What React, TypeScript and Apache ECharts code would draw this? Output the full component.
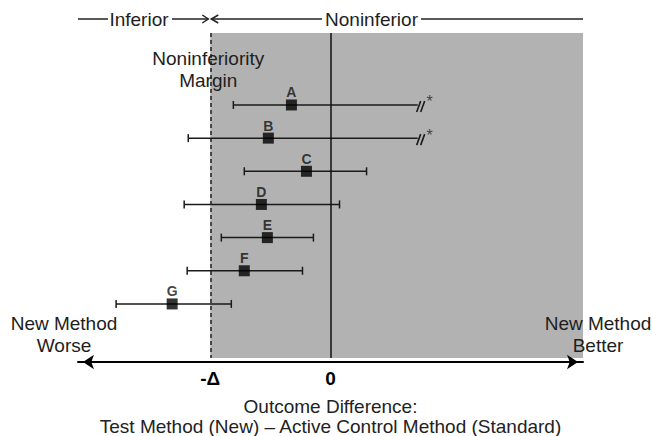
import React, { useEffect, useRef } from 'react';
import * as echarts from 'echarts';

// Data (x in units of the margin Δ; -1 = -Δ)
const rowNames = ['A', 'B', 'C', 'D', 'E', 'F', 'G'];
const pointEstimates = [-0.325, -0.517, -0.2, -0.575, -0.525, -0.717, -1.317];
const lowerBounds = [-0.808, -1.183, -0.717, -1.217, -0.908, -1.192, -1.783];
const upperBounds = [0.725, 0.725, 0.3, 0.075, -0.142, -0.233, -0.825];
const truncatedUpper = [true, true, false, false, false, false, false];
const tickValues = [-1, 0];
const tickLabels = ['-Δ', '0'];
const marginValue = -1;
const xMin = -2.1;
const xMax = 2.1;
const yMin = -2.17;
const yMax = 7.63;

export default function App() {
  const ref = useRef<HTMLDivElement>(null);
  useEffect(() => {
    const chart = echarts.init(ref.current as HTMLDivElement, null, { renderer: 'svg' });
    const font = '"Liberation Sans", Arial, sans-serif';
    const ink = '#1a1a1a';

    const ciData = rowNames.map((_, i) => [lowerBounds[i], upperBounds[i], i, truncatedUpper[i] ? 1 : 0]);
    const ptData = rowNames.map((n, i) => ({ name: n, value: [pointEstimates[i], i] }));

    const option: any = {
      animation: false,
      backgroundColor: '#fff',
      textStyle: { fontFamily: font },
      grid: { left: 78, right: 69, top: 33, bottom: 78, containLabel: false, outerBoundsMode: 'none' },
      xAxis: {
        type: 'value',
        min: xMin,
        max: xMax,
        offset: 4,
        z: 10,
        axisLine: {
          show: true,
          onZero: false,
          symbol: ['arrow', 'arrow'],
          symbolSize: [11, 11],
          symbolOffset: [5, -5],
          lineStyle: { color: '#000', width: 2 },
        },
        axisTick: { show: false },
        splitLine: { show: false },
        axisLabel: {
          customValues: tickValues,
          formatter: (v: number) => {
            const k = tickValues.indexOf(v);
            return k >= 0 ? tickLabels[k] : '';
          },
          fontSize: 19,
          fontWeight: 'bold',
          color: '#000',
          margin: 7,
          fontFamily: font,
        },
        name: 'Outcome Difference:\nTest Method (New) – Active Control Method (Standard)',
        nameLocation: 'middle',
        nameGap: 34,
        nameTextStyle: { fontSize: 19, color: '#222', lineHeight: 20, fontFamily: font },
      },
      yAxis: { type: 'value', inverse: true, min: yMin, max: yMax, show: false },
      series: [
        {
          type: 'line',
          z: 0,
          data: [[xMin, yMin]],
          showSymbol: false,
          lineStyle: { opacity: 0 },
          silent: true,
          markArea: {
            silent: true,
            itemStyle: { color: '#b2b2b2' },
            data: [[{ xAxis: marginValue }, { xAxis: xMax }]],
          },
          markLine: {
            silent: true,
            symbol: 'none',
            label: { show: false },
            data: [
              { xAxis: marginValue, lineStyle: { type: [4, 3], color: '#222', width: 1.5 } },
              { xAxis: 0, lineStyle: { type: 'solid', color: '#111', width: 1.5 } },
            ],
          },
        },
        {
          type: 'custom',
          z: 4,
          data: ciData,
          encode: { x: [0, 1], y: 2 },
          renderItem: (params: any, api: any) => {
            const lo = api.coord([api.value(0), api.value(2)]);
            const hi = api.coord([api.value(1), api.value(2)]);
            const trunc = api.value(3) === 1;
            const y = lo[1];
            const ls = { stroke: ink, lineWidth: 1.5 };
            const children: any[] = [
              { type: 'line', shape: { x1: lo[0], y1: y, x2: hi[0], y2: y }, style: ls },
              { type: 'line', shape: { x1: lo[0], y1: y - 4, x2: lo[0], y2: y + 4 }, style: ls },
            ];
            if (trunc) {
              children.push(
                { type: 'line', shape: { x1: hi[0] - 1, y1: y + 7, x2: hi[0] + 3, y2: y - 4 }, style: { stroke: ink, lineWidth: 1.6 } },
                { type: 'line', shape: { x1: hi[0] + 3, y1: y + 7, x2: hi[0] + 7, y2: y - 4 }, style: { stroke: ink, lineWidth: 1.6 } },
                {
                  type: 'text',
                  style: {
                    text: '*', x: hi[0] + 12, y: y - 3, fill: '#444', fontSize: 16,
                    fontFamily: font, align: 'center', verticalAlign: 'middle',
                  },
                },
              );
            } else {
              children.push({ type: 'line', shape: { x1: hi[0], y1: y - 4, x2: hi[0], y2: y + 4 }, style: ls });
            }
            return { type: 'group', children };
          },
        },
        {
          type: 'scatter',
          z: 5,
          data: ptData,
          symbol: 'rect',
          symbolSize: 11,
          itemStyle: { color: '#000' },
          label: {
            show: true,
            position: 'top',
            distance: 0,
            formatter: (p: any) => p.name,
            fontSize: 14,
            fontWeight: 'bold',
            color: '#111',
            fontFamily: font,
          },
        },
      ],
    };
    chart.setOption(option);

    const px = (v: number) => chart.convertToPixel({ xAxisIndex: 0 }, v) as number;
    const left = px(xMin);
    const right = px(xMax);
    const mPx = px(marginValue);
    const hy = 19;
    const hs = { stroke: '#222', lineWidth: 1.5 };
    const txt = (text: string, x: number, y: number, size: number, extra: any = {}) => ({
      type: 'text',
      z: 100,
      style: {
        text, x, y, fill: '#1e1e1e', fontSize: size, fontFamily: font,
        align: 'center', verticalAlign: 'middle', ...extra,
      },
    });
    chart.setOption({
      graphic: [
        { type: 'line', z: 100, shape: { x1: left, y1: hy, x2: left + 30, y2: hy }, style: hs },
        txt('Inferior', left + 61, hy, 19),
        { type: 'line', z: 100, shape: { x1: left + 94, y1: hy, x2: mPx - 2, y2: hy }, style: hs },
        { type: 'polyline', z: 100, shape: { points: [[mPx - 8, hy - 4], [mPx - 2, hy], [mPx - 8, hy + 4]] }, style: { ...hs, fill: 'none' } },
        { type: 'polyline', z: 100, shape: { points: [[mPx + 8, hy - 4], [mPx + 1, hy], [mPx + 8, hy + 4]] }, style: { ...hs, fill: 'none' } },
        { type: 'line', z: 100, shape: { x1: mPx + 1, y1: hy, x2: 322, y2: hy }, style: hs },
        txt('Noninferior', 371.5, hy, 19),
        { type: 'line', z: 100, shape: { x1: 421, y1: hy, x2: right, y2: hy }, style: hs },
        txt('Noninferiority\nMargin', mPx - 2, 69, 19, { lineHeight: 22 }),
        txt('New Method\nWorse', 64, 334, 19, { lineHeight: 22 }),
        txt('New Method\nBetter', 598, 334, 19, { lineHeight: 22 }),
      ],
    });

    return () => chart.dispose();
  }, []);
  return (
    <div
      ref={ref}
      style={{ position: 'fixed', left: 0, top: 0, width: 652, height: 436, background: '#fff' }}
    />
  );
}
